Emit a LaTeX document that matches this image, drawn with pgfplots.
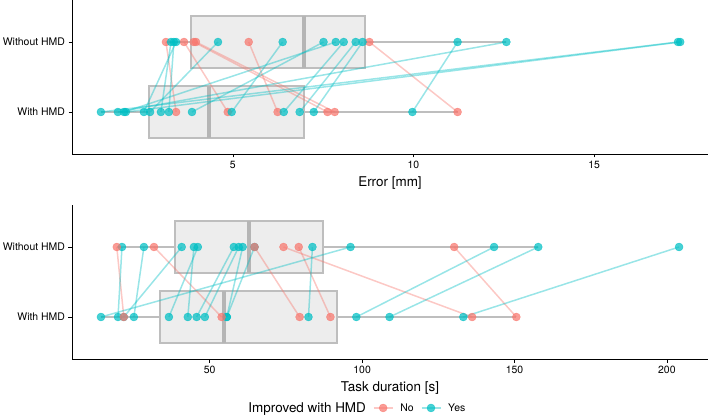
\documentclass[border=0pt]{standalone}
\usepackage{fontspec}
\setmainfont{TeX Gyre Heros}
\usepackage{pgfplots}
\pgfplotsset{compat=1.18}
\definecolor{redc}{HTML}{F8766D}
\definecolor{cyanc}{HTML}{00BFC4}
\definecolor{boxc}{HTML}{BEBEBE}
\definecolor{medc}{HTML}{B5B5B5}
\definecolor{boxfill}{HTML}{EDEDED}
\newcommand{\seg}[5]{\addplot[#1] coordinates {(#2,#3) (#4,#5)};}
\newcommand{\boxrow}[4]{% y, q1, med, q3
  \addplot[draw=boxc, line width=2bp, fill=boxfill, line join=miter] coordinates {(#2,#1-0.375) (#4,#1-0.375) (#4,#1+0.375) (#2,#1+0.375) (#2,#1-0.375)} -- cycle;
  \addplot[draw=medc, line width=4bp] coordinates {(#3,#1-0.375) (#3,#1+0.375)};}
\pgfplotsset{
  whisk/.style={draw=boxc, line width=2bp},
  rl/.style={draw=redc, line width=1.5bp, opacity=0.4},
  cl/.style={draw=cyanc, line width=1.5bp, opacity=0.4},
  rp/.style={only marks, mark=*, color=redc, mark size=4bp, opacity=0.72},
  cp/.style={only marks, mark=*, color=cyanc, mark size=4bp, opacity=0.72},
  panel/.style={
    scale only axis, width=636bp, height=154bp,
    ymin=0.4, ymax=2.6, ytick={1,2}, yticklabels={With HMD,Without HMD},
    axis x line*=bottom, axis y line*=left,
    axis line style={-, line width=0.6bp, black},
    tick style={black, line width=0.6bp},
    tick align=outside, major tick length=3.5bp,
    ticklabel style={font=\fontsize{10.5}{12}\selectfont, text=black},
    /pgf/number format/assume math mode=true,
    xlabel style={font=\fontsize{13.5}{15}\selectfont, at={(axis description cs:0.5,0)}, anchor=center, yshift=-29bp},
  }
}
\begin{document}
\begin{tikzpicture}
\path[use as bounding box] (0bp,0bp) rectangle (709bp,419bp);
% ---------------- Top panel: Error ----------------
\begin{axis}[panel, at={(72bp,265bp)}, anchor=south west,
  xmin=0.55, xmax=18.15, xtick={5,10,15}, xlabel={Error [mm]}]
  \addplot[whisk] coordinates {(3.15,2) (3.84,2)};
  \addplot[whisk] coordinates {(8.67,2) (12.57,2)};
  \addplot[whisk] coordinates {(1.35,1) (2.68,1)};
  \addplot[whisk] coordinates {(6.96,1) (11.22,1)};
  \boxrow{2}{3.84}{6.96}{8.67}
  \boxrow{1}{2.68}{4.34}{6.96}
  % lines: red (not improved)
  \seg{rl}{3.15}{2}{3.43}{1}
  \seg{rl}{3.65}{2}{4.86}{1}
  \seg{rl}{3.92}{2}{7.62}{1}
  \seg{rl}{3.98}{2}{7.82}{1}
  \seg{rl}{5.44}{2}{6.24}{1}
  \seg{rl}{8.78}{2}{11.22}{1}
  % lines: cyan (improved)
  \seg{cl}{3.29}{2}{3.01}{1}
  \seg{cl}{3.37}{2}{3.23}{1}
  \seg{cl}{3.43}{2}{2.54}{1}
  \seg{cl}{4.59}{2}{2.71}{1}
  \seg{cl}{7.51}{2}{3.87}{1}
  \seg{cl}{6.38}{2}{4.97}{1}
  \seg{cl}{8.07}{2}{6.41}{1}
  \seg{cl}{8.40}{2}{6.85}{1}
  \seg{cl}{8.59}{2}{7.24}{1}
  \seg{cl}{11.22}{2}{9.97}{1}
  \seg{cl}{17.32}{2}{1.35}{1}
  \seg{cl}{17.38}{2}{2.04}{1}
  \seg{cl}{12.57}{2}{1.82}{1}
  \seg{cl}{7.85}{2}{1.99}{1}
  % points
  \addplot[rp] coordinates {(3.15,2) (3.65,2) (3.92,2) (3.98,2) (5.44,2) (8.78,2)
    (3.43,1) (4.86,1) (7.62,1) (7.82,1) (6.24,1) (11.22,1)};
  \addplot[cp] coordinates {(3.29,2) (3.37,2) (3.43,2) (4.59,2) (7.51,2) (6.38,2) (8.07,2)
    (8.40,2) (8.59,2) (11.22,2) (17.32,2) (17.38,2) (12.57,2) (7.85,2)
    (3.01,1) (3.23,1) (2.54,1) (2.71,1) (3.87,1) (4.97,1) (6.41,1) (6.85,1) (7.24,1)
    (9.97,1) (1.35,1) (2.04,1) (1.82,1) (1.99,1)};
\end{axis}
% ---------------- Bottom panel: Task duration ----------------
\begin{axis}[panel, at={(72bp,60bp)}, anchor=south west,
  xmin=4.8, xmax=213.5, xtick={50,100,150,200}, xlabel={Task duration [s]},
  legend style={at={(axis description cs:0.444,-0.318)}, anchor=center, draw=none, fill=none,
    font=\fontsize{10.5}{12}\selectfont, legend columns=3, column sep=5bp},
  ]
  \addlegendimage{empty legend}
  \addlegendentry{\fontsize{13.5}{15}\selectfont Improved with HMD}
  \addlegendimage{legend image code/.code={\draw[redc, line width=1.5bp, opacity=0.4] (0bp,0bp) -- (19bp,0bp); \fill[redc, opacity=0.72] (9.5bp,0bp) circle (4bp);}}
  \addlegendentry{No}
  \addlegendimage{legend image code/.code={\draw[cyanc, line width=1.5bp, opacity=0.4] (0bp,0bp) -- (19bp,0bp); \fill[cyanc, opacity=0.72] (9.5bp,0bp) circle (4bp);}}
  \addlegendentry{Yes}
  \addplot[whisk] coordinates {(19.5,2) (38.5,2)};
  \addplot[whisk] coordinates {(87.0,2) (157.8,2)};
  \addplot[whisk] coordinates {(14.3,1) (33.6,1)};
  \addplot[whisk] coordinates {(91.9,1) (150.6,1)};
  \boxrow{2}{38.5}{62.8}{87.0}
  \boxrow{1}{33.6}{54.6}{91.9}
  % red lines
  \seg{rl}{19.5}{2}{21.8}{1}
  \seg{rl}{31.7}{2}{53.9}{1}
  \seg{rl}{64.7}{2}{79.5}{1}
  \seg{rl}{74.2}{2}{136.1}{1}
  \seg{rl}{79.2}{2}{89.6}{1}
  \seg{rl}{130.2}{2}{150.6}{1}
  % cyan lines
  \seg{cl}{96.2}{2}{14.3}{1}
  \seg{cl}{21.2}{2}{19.9}{1}
  \seg{cl}{40.8}{2}{21.8}{1}
  \seg{cl}{28.4}{2}{25.1}{1}
  \seg{cl}{46.1}{2}{36.6}{1}
  \seg{cl}{44.8}{2}{42.8}{1}
  \seg{cl}{57.9}{2}{45.7}{1}
  \seg{cl}{59.5}{2}{48.4}{1}
  \seg{cl}{60.8}{2}{55.6}{1}
  \seg{cl}{64.7}{2}{55.6}{1}
  \seg{cl}{83.7}{2}{82.4}{1}
  \seg{cl}{143.3}{2}{98.1}{1}
  \seg{cl}{157.8}{2}{109.0}{1}
  \seg{cl}{204.0}{2}{133.2}{1}
  % points
  \addplot[cp] coordinates {(96.2,2) (21.2,2) (40.8,2) (28.4,2) (46.1,2) (44.8,2) (57.9,2)
    (59.5,2) (60.8,2) (64.7,2) (83.7,2) (143.3,2) (157.8,2) (204.0,2)
    (14.3,1) (19.9,1) (21.8,1) (25.1,1) (36.6,1) (42.8,1) (45.7,1) (48.4,1) (55.6,1)
    (55.6,1) (82.4,1) (98.1,1) (109.0,1) (133.2,1)};
  \addplot[rp] coordinates {(19.5,2) (31.7,2) (64.7,2) (74.2,2) (79.2,2) (130.2,2)
    (21.8,1) (53.9,1) (79.5,1) (136.1,1) (89.6,1) (150.6,1)};
\end{axis}
\end{tikzpicture}
\end{document}
